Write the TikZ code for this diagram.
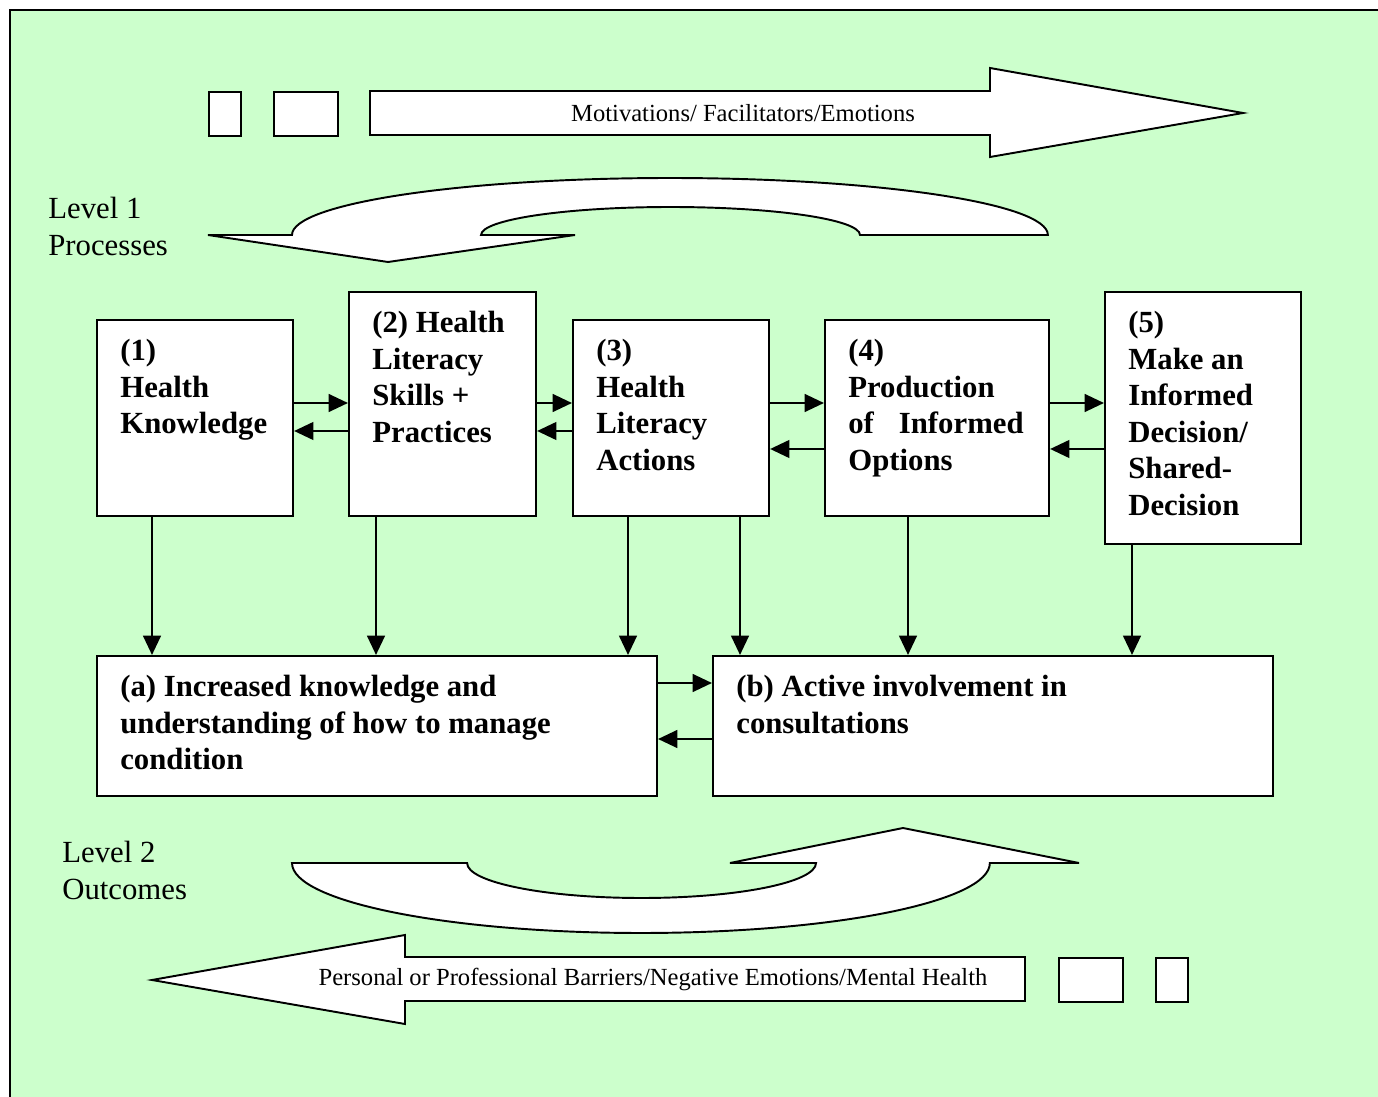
\documentclass[tikz,border=0pt]{standalone}
\usepackage{fontspec}
\setmainfont{Liberation Serif}
\usetikzlibrary{positioning,arrows.meta}
\definecolor{bggreen}{RGB}{204,255,204}

\begin{document}
\begin{tikzpicture}[
		x=0.02cm, y=-0.02cm,
		box/.style={draw, line width=1.2pt, fill=white, anchor=north west, inner sep=0pt},
		boxtxt/.style={align=left, inner sep=0pt, font=\fontsize{17.5}{20.8}\selectfont\bfseries},
		lvl/.style={align=left, inner sep=0pt, anchor=north west, font=\fontsize{17.5}{20.8}\selectfont},
		conn/.style={-{Triangle[length=11pt,width=10pt]}, line width=1.5pt},
		fat/.style={draw, line width=1.1pt, fill=white, line join=miter},
		small/.style={inner sep=0pt, font=\fontsize{14}{16}\selectfont},
	]
	\useasboundingbox (0,0) rectangle (1378,1097);
	\fill[bggreen] (10,10) rectangle (1378,1097);
	\draw[line width=1.2pt] (10,1097) -- (10,10) -- (1378,10);

	% top band
	\node[box, minimum width=0.64cm, minimum height=0.88cm] (s1) at (208,91) {};
	\node[box, minimum width=1.28cm, minimum height=0.88cm] (s2) at (273,91) {};
	\draw[fat] (370,91) -- (990,91) -- (990,68) -- (1243,113) -- (990,157) -- (990,135) -- (370,135) -- cycle;
	\node[small] (motiv) at (743,113) {Motivations/ Facilitators/Emotions};

	\node[lvl] (lev1) at (48,197) {Level 1\\Processes};
	\draw[fat] (292,235) arc[start angle=180, end angle=0, x radius=7.56cm, y radius=1.14cm]
		-- (860,235) arc[start angle=0, end angle=180, x radius=3.79cm, y radius=0.56cm]
		-- (575,235) -- (388,262) -- (208,235) -- cycle;

	% level 1 boxes
	\node[box, minimum width=3.92cm, minimum height=3.92cm] (k1) at (96,319) {};
	\node[box, minimum width=3.74cm, minimum height=4.48cm] (k2) at (348,291) {};
	\node[box, minimum width=3.92cm, minimum height=3.92cm] (k3) at (572,319) {};
	\node[box, minimum width=4.48cm, minimum height=3.92cm] (k4) at (824,319) {};
	\node[box, minimum width=3.92cm, minimum height=5.04cm] (k5) at (1104,291) {};
	\node[boxtxt, below right=0.4cm and 0.48cm of k1.north west] (t1) {(1)\\Health\\Knowledge};
	\node[boxtxt, below right=0.4cm and 0.48cm of k2.north west] (t2) {(2) Health\\Literacy\\Skills +\\Practices};
	\node[boxtxt, below right=0.4cm and 0.48cm of k3.north west] (t3) {(3)\\Health\\Literacy\\Actions};
	\node[boxtxt, below right=0.4cm and 0.48cm of k4.north west] (t4) {(4)\\Production\\of\hspace{0.5cm}Informed\\Options};
	\node[boxtxt, below right=0.4cm and 0.48cm of k5.north west] (t5) {(5)\\Make an\\Informed\\Decision/\\Shared-\\Decision};

	% level 2 boxes
	\node[box, minimum width=11.2cm, minimum height=2.8cm] (ka) at (96,655) {};
	\node[box, minimum width=11.2cm, minimum height=2.8cm] (kb) at (712,655) {};
	\node[boxtxt, below right=0.4cm and 0.48cm of ka.north west] (ta) {(a) Increased knowledge and\\understanding of how to manage\\condition};
	\node[boxtxt, below right=0.4cm and 0.48cm of kb.north west] (tb) {(b) Active involvement in\\consultations};

	% horizontal links
	\draw[conn] (k1.east |- 0,403) -- (k2.west |- 0,403);
	\draw[conn] (k2.west |- 0,431) -- (k1.east |- 0,431);
	\draw[conn] (k2.east |- 0,403) -- (k3.west |- 0,403);
	\draw[conn] (k3.west |- 0,431) -- (k2.east |- 0,431);
	\draw[conn] (k3.east |- 0,403) -- (k4.west |- 0,403);
	\draw[conn] (k4.west |- 0,449) -- (k3.east |- 0,449);
	\draw[conn] (k4.east |- 0,403) -- (k5.west |- 0,403);
	\draw[conn] (k5.west |- 0,449) -- (k4.east |- 0,449);
	\draw[conn] (ka.east |- 0,683) -- (kb.west |- 0,683);
	\draw[conn] (kb.west |- 0,739) -- (ka.east |- 0,739);

	% vertical links
	\draw[conn] (k1.south -| 152,0) -- (ka.north -| 152,0);
	\draw[conn] (k2.south -| 376,0) -- (ka.north -| 376,0);
	\draw[conn] (k3.south -| 628,0) -- (ka.north -| 628,0);
	\draw[conn] (k3.south -| 740,0) -- (kb.north -| 740,0);
	\draw[conn] (k4.south -| 908,0) -- (kb.north -| 908,0);
	\draw[conn] (k5.south -| 1132,0) -- (kb.north -| 1132,0);

	% bottom band
	\node[lvl] (lev2) at (62,841) {Level 2\\Outcomes};
	\draw[fat] (292,863) arc[start angle=180, end angle=360, x radius=6.98cm, y radius=1.4cm]
		-- (1079,863) -- (903,828) -- (730,863) -- (816,863)
		arc[start angle=360, end angle=180, x radius=3.49cm, y radius=0.7cm] -- cycle;
	\draw[fat] (1025,957) -- (405,957) -- (405,935) -- (152,980) -- (405,1024) -- (405,1001) -- (1025,1001) -- cycle;
	\node[small] (barr) at (653,979) {Personal or Professional Barriers/Negative Emotions/Mental Health};
	\node[box, minimum width=1.28cm, minimum height=0.88cm] (s3) at (1058,957) {};
	\node[box, minimum width=0.64cm, minimum height=0.88cm] (s4) at (1155,957) {};
\end{tikzpicture}
\end{document}
